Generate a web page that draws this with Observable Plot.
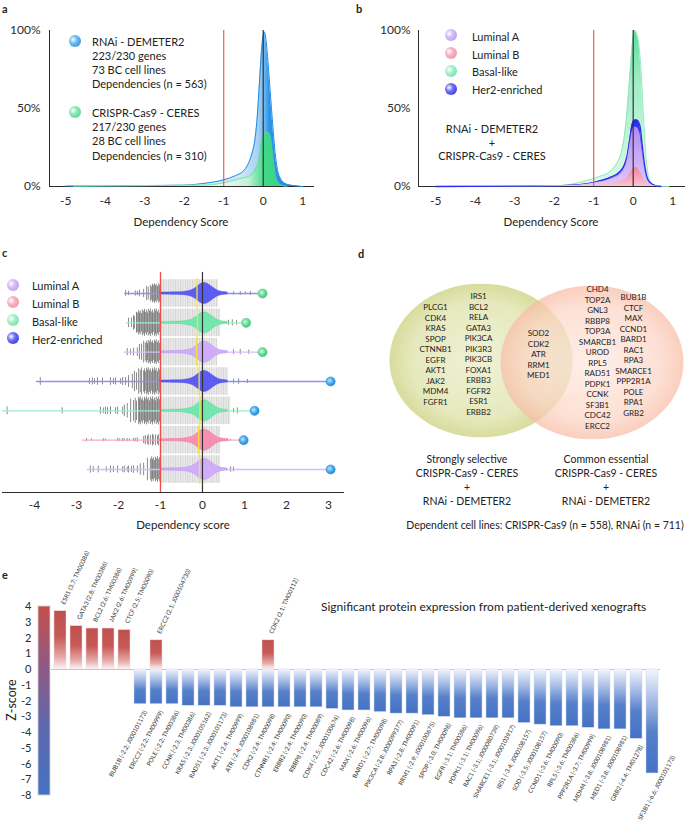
<!DOCTYPE html>
<html><head><meta charset="utf-8">
<script src="https://cdn.jsdelivr.net/npm/d3@7"></script>
<script src="https://cdn.jsdelivr.net/npm/@observablehq/plot@0.6"></script>
<style>
body{margin:0;background:#fff;}
#fig{position:relative;width:685px;height:825px;overflow:hidden;font-family:Lato,"Open Sans",sans-serif;color:#222;background:#fff;}
.panel{position:absolute;}
.t{position:absolute;white-space:nowrap;line-height:1;}
.sph{position:absolute;border-radius:50%;}
</style></head><body><div id="fig"></div>
<script>
// ================= DATA =================
const threshold = -1;
// Panel a: density (% of max) of dependency scores
const abScoreTicks = [-5, -4, -3, -2, -1, 0, 1];
const abPctTicks = [0, 50, 100];
const aRnaiX = [-5.0,-4.0,-3.0,-2.0,-1.5,-1.0,-0.7,-0.5,-0.4,-0.3,-0.2,-0.15,-0.1,-0.05,0.0,0.03,0.08,0.12,0.18,0.24,0.3,0.36,0.44,0.55,0.7,0.9,1.0];
const aRnaiY = [0.3,0.4,0.6,0.9,2.0,4.3,7,10,13.5,20,32,45,65,85,97,99,92,80,60,40,22,11,5,2,0.8,0.2,0];
const aCrisprX = [-4.8,-4.0,-3.0,-2.0,-1.4,-1.0,-0.6,-0.3,-0.2,-0.1,-0.03,0.03,0.08,0.13,0.18,0.25,0.31,0.37,0.48,0.6];
const aCrisprY = [0,0.3,0.5,0.8,1.0,2.4,5,7.5,11,18,30,34,35,34.5,32,18,7,2.8,0.6,0];
// Panel b: subtype densities
const bBasalX = [-5,-4,-3,-2.5,-2,-1.84,-1.33,-0.91,-0.57,-0.40,-0.30,-0.22,-0.15,-0.085,-0.026,0.033,0.12,0.19,0.25,0.31,0.37,0.44,0.57,0.7,0.9];
const bBasalY = [0,0.1,0.2,0.3,0.5,0.6,2.8,6,10,15.6,22,33,50,71,90,100,95,77.6,50,24,9,2.8,0.6,0.1,0];
const bHer2X = [-5,-4,-3,-2,-1.42,-0.91,-0.57,-0.36,-0.23,-0.15,-0.085,-0.026,0.03,0.083,0.17,0.23,0.29,0.35,0.44,0.57,0.7];
const bHer2Y = [0,0.1,0.2,0.4,1,3.2,6,9,13.5,20,30.5,40,42.5,42.7,39,26,13.5,6,2.3,0.6,0];
const bLumAX = [-5,-4,-3,-2,-1.42,-0.91,-0.57,-0.36,-0.23,-0.15,-0.085,-0.026,0.03,0.083,0.17,0.23,0.29,0.35,0.44,0.57,0.7];
const bLumAY = [0,0.05,0.1,0.3,0.8,2.5,4.5,7,11,17,27,35,38,38,34,22,11,4.5,1.5,0.3,0];
const bLumBX = [-5,-3,-2,-0.99,-0.49,-0.28,-0.15,-0.07,0.0,0.08,0.18,0.27,0.34,0.44,0.6];
const bLumBY = [0,0.1,0.3,1,2.4,3.8,6,9,11.5,12.4,9,5,2.4,0.6,0];
// Panel c: per-row distributions
const cScoreTicks = [-4, -3, -2, -1, 0, 1, 2, 3];
const cRowSubtype = ["Her2-enriched","Basal-like","Luminal A","Her2-enriched","Basal-like","Luminal B","Luminal A"];
const cRowScreen = ["CRISPR","CRISPR","CRISPR","RNAi","RNAi","RNAi","RNAi"];
const cRowMin = [-1.85,-1.81,-1.86,-3.95,-4.76,-2.86,-2.74];
const cRowMax = [1.43,1.04,1.43,3.05,1.24,0.98,3.05];
const cRowMedian = [-0.13,-0.12,-0.14,-0.08,-0.06,-0.09,-0.07];
const cRowGrayEnd = [0.38,0.43,0.36,0.62,0.67,0.43,0.43];
const cRowTicks = [
  [-1.83,-1.76,-1.60,-1.55,-1.50,-1.40,-1.33,-1.29,-1.24,-1.21,-1.19,-1.17,-1.14,-1.12,-1.10,-1.07,-1.05,-1.02,-1.00,0.74,0.90,1.02,1.14],
  [-1.76,-1.69,-1.64,-1.62,-1.57,-1.55,-1.52,-1.50,-1.48,-1.45,-1.43,-1.40,-1.38,-1.36,-1.33,-1.31,-1.29,-1.26,-1.24,-1.21,-1.19,-1.17,-1.14,-1.12,-1.10,-1.07,-1.05,-1.02,-1.00,0.62,0.71,0.81],
  [-1.79,-1.71,-1.64,-1.55,-1.50,-1.45,-1.40,-1.36,-1.33,-1.31,-1.29,-1.26,-1.24,-1.21,-1.19,-1.17,-1.14,-1.12,-1.10,-1.07,-1.05,-1.02,-1.00,0.74,0.90,1.10],
  [-3.86,-2.69,-2.62,-2.57,-2.50,-2.38,-2.19,-2.12,-2.07,-1.95,-1.90,-1.83,-1.76,-1.67,-1.62,-1.57,-1.52,-1.48,-1.45,-1.40,-1.38,-1.36,-1.33,-1.31,-1.29,-1.26,-1.24,-1.21,-1.19,-1.17,-1.14,-1.12,-1.10,-1.07,-1.05,-1.02,-1.00,0.74,0.86,1.07],
  [-4.65,-3.34,-2.43,-2.36,-2.31,-2.26,-2.19,-2.07,-2.02,-1.90,-1.86,-1.79,-1.71,-1.64,-1.60,-1.57,-1.52,-1.50,-1.48,-1.45,-1.43,-1.40,-1.38,-1.36,-1.33,-1.31,-1.29,-1.26,-1.24,-1.21,-1.19,-1.17,-1.14,-1.12,-1.10,-1.07,-1.05,-1.02,-1.00,0.74,0.83],
  [-2.76,-2.64,-2.36,-2.31,-2.02,-1.98,-1.90,-1.86,-1.79,-1.74,-1.64,-1.60,-1.55,-1.40,-1.36,-1.31,-1.29,-1.24,-1.19,-1.17,-1.12,-1.07,-1.05,-1.00,0.60,0.67],
  [-2.67,-2.60,-2.48,-2.29,-2.19,-2.12,-2.02,-1.90,-1.86,-1.79,-1.76,-1.69,-1.64,-1.55,-1.48,-1.40,-1.31,-1.24,-1.21,-1.19,-1.17,-1.14,-1.12,-1.10,-1.07,-1.05,-1.02,-1.00,0.67,0.74]
];
const cViolinX = [-1.0,-0.6,-0.44,-0.3,-0.2,-0.13,-0.05,0.05,0.15,0.25,0.35,0.45,0.6];
const cViolinW = [0.03,0.04,0.05,0.085,0.14,0.22,0.32,0.375,0.32,0.2,0.1,0.05,0.034];
// Panel d: Venn gene sets
const vennSelectiveA = ["PLCG1","CDK4","KRAS","SPOP","CTNNB1","EGFR","AKT1","JAK2","MDM4","FGFR1"];
const vennSelectiveB = ["IRS1","BCL2","RELA","GATA3","PIK3CA","PIK3R3","PIK3CB","FOXA1","ERBB3","FGFR2","ESR1","ERBB2"];
const vennShared = ["SOD2","CDK2","ATR","RRM1","MED1"];
const vennEssentialA = ["CHD4","TOP2A","GNL3","RBBP8","TOP3A","SMARCB1","UROD","RPL5","RAD51","PDPK1","CCNK","SF3B1","CDC42","ERCC2"];
const vennEssentialB = ["BUB1B","CTCF","MAX","CCND1","BARD1","RAC1","RPA3","SMARCE1","PPP2R1A","POLE","RPA1","GRB2"];
// Panel e: protein expression z-scores
const eTicks = [4,3,2,1,0,-1,-2,-3,-4,-5,-6,-7,-8];
const eSlots = ["ESR1","GATA3","BCL2","JAK2","CTCF","BUB1B","ERCC2","POLE","CCNK","KRAS","RAD51","AKT1","ATR","CDK2","CTNNB1","ERBB2","RBBP8","CDK4","CDC42","MAX","BARD1","PIK3CA","RPA3","RRM1","SPOP","EGFR","PDPK1","RAC1","SMARCE1","IRS1","SOD","CCND1","RPL5","PPP2R1A","MDM4","MED1","GRB2","SF3B1"];
const ePosGenes = ["ESR1","GATA3","BCL2","JAK2","CTCF","ERCC2","CDK2"];
const ePosZ = [3.7,2.75,2.6,2.6,2.5,1.85,1.85];
const ePosLabels = ["ESR1 (3.7; TM00386)","GATA3 (2.8; TM00386)","BCL2 (2.6; TM00386)","JAK2 (2.6; TM00999)","CTCF (2.5; TM00090)","ERCC2 (2.1; J000104730)","CDK2 (2.1; TM00112)"];
const eNegGenes = ["BUB1B","ERCC2","POLE","CCNK","KRAS","RAD51","AKT1","ATR","CDK2","CTNNB1","ERBB2","RBBP8","CDK4","CDC42","MAX","BARD1","PIK3CA","RPA3","RRM1","SPOP","EGFR","PDPK1","RAC1","SMARCE1","IRS1","SOD","CCND1","RPL5","PPP2R1A","MDM4","MED1","GRB2","SF3B1"];
const eNegZ = [-2.2,-2.2,-2.2,-2.3,-2.3,-2.3,-2.4,-2.4,-2.4,-2.4,-2.4,-2.4,-2.5,-2.6,-2.6,-2.7,-2.8,-2.8,-2.9,-3.0,-3.1,-3.1,-3.1,-3.1,-3.4,-3.5,-3.6,-3.6,-3.7,-3.8,-3.8,-4.4,-6.6];
const eNegLabels = ["BUB1B (-2.2; J000101173)","ERCC2 (-2.2; TM00999)","POLE (-2.2; TM00386)","CCNK (-2.3; TM00386)","KRAS (-2.3; J000105162)","RAD51 (-2.3; J000101173)","AKT1 (-2.4; TM00999)","ATR (-2.4; J000108981)","CDK2 (-2.4; TM00098)","CTNNB1 (-2.4; TM00090)","ERBB2 (-2.4; TM00090)","RBBP8 (-2.4; TM00089)","CDK4 (-2.5; J000100674)","CDC42 (-2.6; TM00098)","MAX (-2.6; TM00096)","BARD1 (-2.7; TM00098)","PIK3CA (-2.8; J000099377)","RPA3 (-2.8; TM00091)","RRM1 (-2.9; J000100675)","SPOP (-3.0; TM00098)","EGFR (-3.1; TM00386)","PDPK1 (-3.1; TM00096)","RAC1 (-3.1; J000080739)","SMARCE1 (-3.1; J000103917)","IRS1 (-3.4; J000108157)","SOD (-3.5; J000108157)","CCND1 (-3.6; TM00090)","RPL5 (-3.6; TM00386)","PPP2R1A (-3.7; TM00999)","MDM4 (-3.8; J000108981)","MED1 (-3.8; J000108981)","GRB2 (-4.4; TM01278)","SF3B1 (-6.6; J000101173)"];

// ================= HELPERS =================
const fig = document.getElementById("fig");
const zip = (xs, ys) => xs.map((x, i) => ({x, y: ys[i]}));
const fmt = d => String(d);
const curve = "monotone-x";
const baseStyle = {fontFamily: "Lato, 'Open Sans', sans-serif", fontSize: "12px", color: "#2b2b2b", background: "transparent", overflow: "visible"};
function place(svg, left, top, width) {
  const d = document.createElement("div");
  d.className = "panel"; d.style.left = left + "px"; d.style.top = top + "px"; d.style.width = width + "px";
  d.appendChild(svg); fig.appendChild(d);
}
function addDefs(svg, markup) {
  const defs = document.createElementNS("http://www.w3.org/2000/svg", "defs");
  defs.innerHTML = markup;
  svg.insertBefore(defs, svg.firstChild);
}
function txt(s, x, y, o = {}) {
  const d = document.createElement("div");
  d.className = "t"; d.textContent = s;
  d.style.fontSize = (o.size || 11) + "px";
  d.style.left = x + "px"; d.style.top = y + "px";
  if (o.weight) d.style.fontWeight = o.weight;
  const tx = o.anchor === "middle" ? "-50%" : o.anchor === "end" ? "-100%" : "0";
  d.style.transform = `translate(${tx}, -50%)` + (o.rotate ? ` rotate(${o.rotate}deg)` : "");
  fig.appendChild(d);
}
function sph(x, y, dia, c1, c2) {
  const d = document.createElement("div");
  d.className = "sph";
  d.style.left = (x - dia / 2) + "px"; d.style.top = (y - dia / 2) + "px";
  d.style.width = dia + "px"; d.style.height = dia + "px";
  d.style.background = `radial-gradient(circle at 35% 38%, #ffffff 0%, ${c1} 35%, ${c2} 100%)`;
  fig.appendChild(d);
}

// ================= PANEL a =================
const aR = zip(aRnaiX, aRnaiY), aC = zip(aCrisprX, aCrisprY);
const plotA = Plot.plot({
  width: 345, height: 232, marginLeft: 49, marginRight: 32, marginTop: 30, marginBottom: 46,
  style: baseStyle,
  x: {domain: [-5.41, 1.273], ticks: abScoreTicks, tickFormat: fmt, tickSize: 0, tickPadding: 10, line: true, label: null},
  y: {domain: [0, 100], ticks: abPctTicks, tickFormat: d => d + "%", tickSize: 0, tickPadding: 9, line: true, label: null},
  marks: [
    Plot.areaY(aR, {x: "x", y1: 0, y2: "y", fill: "url(#gA_rnai)", curve}),
    Plot.line(aR, {x: "x", y: "y", stroke: "#1f8ce6", strokeWidth: 1, curve}),
    Plot.areaY(aC, {x: "x", y1: 0, y2: "y", fill: "url(#gA_crispr)", curve}),
    Plot.line(aC, {x: "x", y: "y", stroke: "#5ddc97", strokeWidth: 0.8, curve}),
    Plot.ruleX([threshold], {y1: 0, y2: 100, stroke: "#f25a5a", strokeWidth: 1.2}),
    Plot.ruleX([0], {y1: 0, y2: 100, stroke: "#333", strokeWidth: 1.2})
  ]
});
addDefs(plotA, `
<linearGradient id="gA_rnai" x1="0" x2="1" y1="0" y2="0">
<stop offset="0" stop-color="#dcedfa"/><stop offset="0.74" stop-color="#cfe6f8"/><stop offset="0.81" stop-color="#a9d4f5"/>
<stop offset="0.835" stop-color="#7dbff2"/><stop offset="0.86" stop-color="#2a94e8"/><stop offset="1" stop-color="#1a86e0"/></linearGradient>
<linearGradient id="gA_crispr" x1="0" x2="1" y1="0" y2="0">
<stop offset="0" stop-color="#f3fcf6"/><stop offset="0.72" stop-color="#e6f8ed"/><stop offset="0.82" stop-color="#c4f1d6"/>
<stop offset="0.87" stop-color="#6fe2a2"/><stop offset="0.9" stop-color="#3fd886"/><stop offset="1" stop-color="#38d481"/></linearGradient>`);
place(plotA, 0, 0, 345);

// ================= PANEL b =================
const bB = zip(bBasalX, bBasalY), bH = zip(bHer2X, bHer2Y), bA = zip(bLumAX, bLumAY), bLB = zip(bLumBX, bLumBY);
const plotB = Plot.plot({
  width: 340, height: 232, marginLeft: 73, marginRight: 0, marginTop: 30, marginBottom: 46,
  style: baseStyle,
  x: {domain: [-5.435, 1.324], ticks: abScoreTicks, tickFormat: fmt, tickSize: 0, tickPadding: 10, line: true, label: null},
  y: {domain: [0, 100], ticks: abPctTicks, tickFormat: d => d + "%", tickSize: 0, tickPadding: 8, line: true, label: null},
  marks: [
    Plot.areaY(bB, {x: "x", y1: 0, y2: "y", fill: "url(#gB_basal)", fillOpacity: 0.85, curve}),
    Plot.line(bB, {x: "x", y: "y", stroke: "#8ae8b7", strokeWidth: 0.9, curve}),
    Plot.areaY(bH, {x: "x", y1: 0, y2: "y", fill: "url(#gB_her2)", curve}),
    Plot.line(bH, {x: "x", y: "y", stroke: "#2a2aee", strokeWidth: 1.3, curve}),
    Plot.areaY(bA, {x: "x", y1: 0, y2: "y", fill: "url(#gB_luma)", curve}),
    Plot.areaY(bLB, {x: "x", y1: 0, y2: "y", fill: "url(#gB_lumb)", curve}),
    Plot.ruleX([threshold], {y1: 0, y2: 100, stroke: "#f25a5a", strokeWidth: 1.2}),
    Plot.ruleX([0], {y1: 0, y2: 100, stroke: "#333", strokeWidth: 1.2})
  ]
});
addDefs(plotB, `
<linearGradient id="gB_basal" x1="0" x2="0" y1="0" y2="1"><stop offset="0" stop-color="#3fd78b"/><stop offset="0.35" stop-color="#93eabf"/><stop offset="1" stop-color="#d6f7e6"/></linearGradient>
<linearGradient id="gB_her2" x1="0" x2="0" y1="0" y2="1"><stop offset="0" stop-color="#2323ee"/><stop offset="0.25" stop-color="#4b46f0"/><stop offset="1" stop-color="#a996f5"/></linearGradient>
<linearGradient id="gB_luma" x1="0" x2="0" y1="0" y2="1"><stop offset="0" stop-color="#b18af3"/><stop offset="1" stop-color="#dccafa"/></linearGradient>
<linearGradient id="gB_lumb" x1="0" x2="0" y1="0" y2="1"><stop offset="0" stop-color="#f5819f"/><stop offset="1" stop-color="#f9c3d2"/></linearGradient>`);
place(plotB, 345, 0, 340);

// ================= PANEL c =================
const subtypeStyle = {
  "Luminal A": {violin: "#d0adf8", edge: "#b993f0", line: "#d6bdf9"},
  "Luminal B": {violin: "#f78fb0", edge: "#ef7aa0", line: "#f8a9c2"},
  "Basal-like": {violin: "#72e6ad", edge: "#5fdc9d", line: "#9aeec4"},
  "Her2-enriched": {violin: "#5c5cf3", edge: "#4a4aee", line: "#8f8ff7"}
};
const cRows = cRowSubtype.map((s, i) => ({row: i + 1, subtype: s, screen: cRowScreen[i], min: cRowMin[i], max: cRowMax[i], median: cRowMedian[i], grayEnd: cRowGrayEnd[i]}));
// tick styling: tall ticks inside each row's dense cluster, short ones elsewhere, with a little alternation for texture
const tickMaxH = [0.34, 0.47, 0.42, 0.47, 0.48, 0.2, 0.44];
const tickClusterStart = [-1.35, -1.62, -1.5, -1.68, -1.78, -1.45, -1.42];
const tickTexture = [1, 0.78, 0.92, 0.7, 0.97, 0.84];
const cTicks = cRowTicks.flatMap((vals, i) => vals.map((x, j) => ({
  row: i + 1, x,
  h: tickMaxH[i] * tickTexture[j % tickTexture.length] * (x < -0.95 ? 0.28 + 0.72 / (1 + Math.exp(-(x - tickClusterStart[i]) / 0.06)) : 0.22)
})));
const cViolin = zip(cViolinX, cViolinW);
const cYDomain = [7.784, -0.125];
const plotC = Plot.plot({
  width: 345, height: 300, marginLeft: 2, marginRight: 2, marginTop: 20, marginBottom: 48,
  style: baseStyle,
  x: {domain: [-4.76, 3.357], ticks: cScoreTicks, tickFormat: fmt, tickSize: 0, tickPadding: 8, line: true, label: null},
  y: {domain: cYDomain, axis: null},
  marks: [
    Plot.rect(cRows, {x1: threshold, x2: "grayEnd", y1: d => d.row - 0.47, y2: d => d.row + 0.47, fill: "url(#gC_bar)"}),
    Plot.ruleX(cTicks, {x: "x", y1: d => d.row - d.h, y2: d => d.row + d.h, stroke: "#3d3d3d", strokeWidth: 0.6}),
    Plot.ruleY(cRows, {y: "row", x1: "min", x2: "max", stroke: d => subtypeStyle[d.subtype].line, strokeWidth: 1.3}),
    ...cRows.map(r => Plot.areaY(cViolin, {x: "x", y1: d => r.row - d.y, y2: d => r.row + d.y, fill: subtypeStyle[r.subtype].violin, stroke: subtypeStyle[r.subtype].edge, strokeWidth: 0.5, curve: "basis"})),
    Plot.ruleX(cRows, {x: "median", y1: d => d.row - 0.5, y2: d => d.row + 0.5, stroke: "#f3e33c", strokeWidth: 1.3}),
    Plot.ruleX([threshold], {y1: 0.28, y2: cYDomain[0], stroke: "#f04a4a", strokeWidth: 1.3}),
    Plot.ruleX([0], {y1: 0.28, y2: cYDomain[0], stroke: "#333", strokeWidth: 1.2}),
    Plot.dot(cRows.filter(d => d.screen === "CRISPR"), {x: "max", y: "row", r: 4.6, fill: "url(#gC_dotG)", stroke: "#4fcf86", strokeWidth: 0.5}),
    Plot.dot(cRows.filter(d => d.screen === "RNAi"), {x: "max", y: "row", r: 4.6, fill: "url(#gC_dotB)", stroke: "#2a90dc", strokeWidth: 0.5})
  ]
});
addDefs(plotC, `
<pattern id="gC_bar" width="2.4" height="8" patternUnits="userSpaceOnUse"><rect width="2.4" height="8" fill="#ececec"/><rect width="1" height="8" fill="#d4d4d4"/></pattern>
<radialGradient id="gC_dotG" cx="0.4" cy="0.4" r="0.65"><stop offset="0" stop-color="#d4f7e3"/><stop offset="0.55" stop-color="#66da96"/><stop offset="1" stop-color="#3fbf76"/></radialGradient>
<radialGradient id="gC_dotB" cx="0.4" cy="0.4" r="0.65"><stop offset="0" stop-color="#c6e7fc"/><stop offset="0.55" stop-color="#44a6eb"/><stop offset="1" stop-color="#1f86d4"/></radialGradient>`);
place(plotC, 0, 240, 345);

// ================= PANEL d =================
const vennSets = [{name: "selective", cx: 135.5, cy: 105}, {name: "essential", cx: 246.5, cy: 107}];
const vennCols = [
  {genes: vennSelectiveA, x: 90, y0: 52},
  {genes: vennSelectiveB, x: 133, y0: 41},
  {genes: vennShared, x: 193, y0: 78},
  {genes: vennEssentialA, x: 252, y0: 34},
  {genes: vennEssentialB, x: 288, y0: 42}
];
const vennText = vennCols.flatMap(c => c.genes.map((g, i) => ({gene: g, x: c.x, y: c.y0 + i * 10.5})));
const plotD = Plot.plot({
  width: 340, height: 200, margin: 0,
  style: baseStyle,
  x: {domain: [0, 340], axis: null},
  y: {domain: [200, 0], axis: null},
  marks: [
    Plot.dot(vennSets.slice(0, 1), {x: "cx", y: "cy", r: 91.5, fill: "url(#gD_left)", stroke: "none"}),
    Plot.dot(vennSets.slice(1), {x: "cx", y: "cy", r: 91.5, fill: "url(#gD_right)", fillOpacity: 0.72, stroke: "none"}),
    Plot.text(vennText, {x: "x", y: "y", text: "gene", fontSize: 8, fill: "#222"})
  ]
});
addDefs(plotD, `
<radialGradient id="gD_left" cx="0.5" cy="0.5" r="0.5"><stop offset="0" stop-color="#eff1d6"/><stop offset="0.75" stop-color="#e6e9bd"/><stop offset="1" stop-color="#d8dc9c"/></radialGradient>
<radialGradient id="gD_right" cx="0.5" cy="0.5" r="0.5"><stop offset="0" stop-color="#fde9e1"/><stop offset="0.75" stop-color="#fcd4c4"/><stop offset="1" stop-color="#f8bca5"/></radialGradient>`);
d3.select(plotD).selectAll("circle").each(function() {
  const cy = +this.getAttribute("cy"), cx = +this.getAttribute("cx"), k = 0.84;
  this.setAttribute("transform", `translate(${cx},${cy}) scale(1,${k}) translate(${-cx},${-cy})`);
});
place(plotD, 345, 255, 340);

// ================= PANEL e =================
const ePos = ePosGenes.map((g, i) => ({gene: g, z: ePosZ[i], label: ePosLabels[i]}));
const eNeg = eNegGenes.map((g, i) => ({gene: g, z: eNegZ[i], label: eNegLabels[i]}));
const eAxisSlot = "z-axis";
const eLabelFloor = -5.5; // labels of deeper bars are lifted to stay inside the figure
const plotE = Plot.plot({
  width: 685, height: 285, marginLeft: 32, marginRight: 22, marginTop: 66, marginBottom: 30,
  style: {...baseStyle, fontSize: "11px"},
  x: {type: "band", domain: [eAxisSlot, ...eSlots], padding: 0.28, axis: null},
  y: {domain: [d3.min(eTicks), d3.max(eTicks)], ticks: eTicks, tickFormat: fmt, tickSize: 0, tickPadding: 1, label: null},
  marks: [
    Plot.ruleY([0], {stroke: "#c4c4c4", strokeWidth: 1, insetLeft: 19, insetRight: 3}),
    Plot.barY([eAxisSlot], {x: d => d, y1: d3.min(eTicks), y2: d3.max(eTicks), fill: "url(#gE_axis)", stroke: "#d6d6d6", strokeWidth: 0.8}),
    Plot.barY(ePos, {x: "gene", y1: 0, y2: "z", fill: "url(#gE_pos)", stroke: "#f0d6d5", strokeWidth: 0.5}),
    Plot.barY(eNeg, {x: "gene", y1: 0, y2: "z", fill: "url(#gE_neg)", stroke: "#cdd8ee", strokeWidth: 0.5}),
    Plot.text(ePos, {x: "gene", y: "z", text: "label", rotate: -65, textAnchor: "start", dx: 2.5, dy: -7, fontSize: 6.2, fill: "#333"}),
    Plot.text(eNeg.filter(d => d.z > eLabelFloor), {x: "gene", y: "z", text: "label", rotate: -62, textAnchor: "end", dx: 5, dy: 7, fontSize: 6.2, fill: "#333"}),
    Plot.text(eNeg.filter(d => d.z <= eLabelFloor), {x: "gene", y: () => eLabelFloor, text: "label", rotate: -62, textAnchor: "end", dx: 21, dy: 0, fontSize: 6.2, fill: "#333"})
  ]
});
addDefs(plotE, `
<linearGradient id="gE_pos" x1="0" x2="0" y1="0" y2="1"><stop offset="0" stop-color="#c0504d"/><stop offset="0.45" stop-color="#c65a57"/><stop offset="0.8" stop-color="#e6aaa8"/><stop offset="1" stop-color="#fdf6f6"/></linearGradient>
<linearGradient id="gE_neg" x1="0" x2="0" y1="0" y2="1"><stop offset="0" stop-color="#f3f6fc"/><stop offset="0.3" stop-color="#a7bde6"/><stop offset="0.6" stop-color="#5580ca"/><stop offset="1" stop-color="#4472c4"/></linearGradient>
<linearGradient id="gE_axis" x1="0" x2="0" y1="0" y2="1"><stop offset="0" stop-color="#c44f4c"/><stop offset="0.33" stop-color="#8d5a86"/><stop offset="0.65" stop-color="#5d68ad"/><stop offset="1" stop-color="#4472c4"/></linearGradient>`);
place(plotE, 0, 540, 685);

// ================= TEXT / LEGENDS =================
txt("a", 2, 8, {size: 11, weight: 700});
txt("b", 356, 8, {size: 11, weight: 700});
txt("c", 2, 252, {size: 11, weight: 700});
txt("d", 358, 253, {size: 11, weight: 700});
txt("e", 2, 574, {size: 11, weight: 700});
// a
txt("Dependency Score", 181, 222, {anchor: "middle", size: 11.5});
sph(75, 41, 12, "#6dbcf3", "#1d86de");
txt("RNAi - DEMETER2", 92, 41, {size: 11});
txt("223/230 genes", 92, 54.5, {size: 11});
txt("73 BC cell lines", 92, 68.5, {size: 11});
txt("Dependencies (n = 563)", 92, 83, {size: 11});
sph(75, 112, 12, "#8fe8b6", "#3fcf80");
txt("CRISPR-Cas9 - CERES", 92, 112, {size: 11});
txt("217/230 genes", 92, 126, {size: 11});
txt("28 BC cell lines", 92, 139.5, {size: 11});
txt("Dependencies (n = 310)", 92, 155, {size: 11});
// b
txt("Dependency Score", 551, 222, {anchor: "middle", size: 11.5});
sph(451, 35, 12, "#d5bdf9", "#b48cf2");
txt("Luminal A", 472, 36, {size: 11});
sph(451, 53, 12, "#f9b3c6", "#f2839f");
txt("Luminal B", 472, 53.5, {size: 11});
sph(451, 71, 12, "#a7efca", "#5fdc9b");
txt("Basal-like", 472, 71, {size: 11});
sph(451, 89, 12, "#7070f5", "#2222e8");
txt("Her2-enriched", 472, 89, {size: 11});
txt("RNAi - DEMETER2", 492, 127.5, {anchor: "middle", size: 11});
txt("+", 492, 141.5, {anchor: "middle", size: 11});
txt("CRISPR-Cas9 - CERES", 492, 155, {anchor: "middle", size: 11});
// c
sph(12.5, 284.5, 12, "#d5bdf9", "#b48cf2");
txt("Luminal A", 32, 285, {size: 11});
sph(12.5, 302, 12, "#f9b3c6", "#f2839f");
txt("Luminal B", 32, 303, {size: 11});
sph(12.5, 319.5, 12, "#a7efca", "#5fdc9b");
txt("Basal-like", 32, 320.5, {size: 11});
sph(12.5, 337.5, 12, "#7070f5", "#2222e8");
txt("Her2-enriched", 32, 338.5, {size: 11});
txt("Dependency score", 183, 524.5, {anchor: "middle", size: 11.5});
// d
["Strongly selective", "CRISPR-Cas9 - CERES", "+", "RNAi - DEMETER2"].forEach((s, i) => txt(s, 467, 458.5 + i * 14, {anchor: "middle", size: 10.5}));
["Common essential", "CRISPR-Cas9 - CERES", "+", "RNAi - DEMETER2"].forEach((s, i) => txt(s, 606, 458.5 + i * 14, {anchor: "middle", size: 10.5}));
txt("Dependent cell lines: CRISPR-Cas9 (n = 558), RNAi (n = 711)", 545, 524.5, {anchor: "middle", size: 10.5});
// e
txt("Significant protein expression from patient-derived xenografts", 321, 607, {size: 12});
txt("Z-score", 12, 700, {anchor: "middle", size: 12.5, rotate: -90});
</script></body></html>
